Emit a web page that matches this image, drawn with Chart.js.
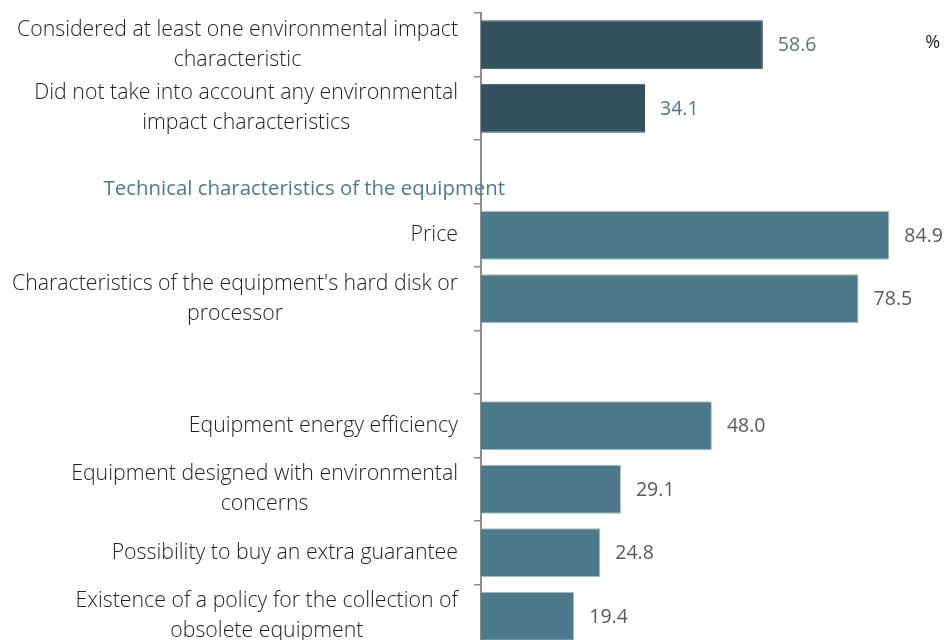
<!DOCTYPE html>
<html>
<head>
<meta charset="utf-8">
<script src="https://cdn.jsdelivr.net/npm/chart.js@4"></script>
<style>
  html, body { margin: 0; padding: 0; background: #ffffff; overflow: hidden; width: 944px; height: 640px; }
  #wrap { position: relative; width: 962px; height: 660px; }
</style>
</head>
<body>
<div id="wrap"><canvas id="c"></canvas></div>
<script>
const categories = [
  ["Considered at least one environmental impact", "characteristic"],
  ["Did not take into account any environmental", "impact characteristics"],
  "",
  "Price",
  ["Characteristics of the equipment's hard disk or", "processor"],
  "",
  "Equipment energy efficiency",
  ["Equipment designed with environmental", "concerns"],
  "Possibility to buy an extra guarantee",
  ["Existence of a policy for the collection of", "obsolete equipment"]
];
const values = [58.6, 34.1, null, 84.9, 78.5, null, 48.0, 29.1, 24.8, 19.4];
const groupOf = ["env", "env", null, "tech", "tech", null, "tech", "tech", "tech", "tech"];
const sectionHeaders = { 2: "Technical characteristics of the equipment" };
const unitLabel = "%";

const barColors = { env: "#34525e", tech: "#4d7a8a" };
const barEdge = { env: "#34525e", tech: "#a9c2cb" };
const valueColors = { env: "#5a7282", tech: "#585b54" };

const LABEL_FONT = '300 21.3px "Open Sans", "Noto Sans", sans-serif';
const LINE_H = 30;

const labelPlugin = {
  id: 'customLabels',
  afterDraw(chart) {
    const ctx = chart.ctx;
    const ys = chart.scales.y, xs = chart.scales.x;
    ctx.save();
    // category labels: block right-aligned, lines centered within block
    ctx.font = LABEL_FONT;
    ctx.fillStyle = '#1e1e1e';
    ctx.textBaseline = 'middle';
    ctx.textAlign = 'center';
    const right = ys.right - 7 - 16;
    categories.forEach((lab, i) => {
      const lines = Array.isArray(lab) ? lab : [lab];
      if (!lines.join('')) return;
      const w = Math.max(...lines.map(l => ctx.measureText(l).width));
      const cx = right - w / 2;
      const cy = ys.getPixelForValue(i);
      lines.forEach((l, k) => ctx.fillText(l, cx, cy + (k - (lines.length - 1) / 2) * LINE_H));
    });
    // section headers
    ctx.font = '400 20.4px "Open Sans", "Noto Sans", sans-serif';
    ctx.fillStyle = '#4a7c8c';
    ctx.textAlign = 'right';
    Object.keys(sectionHeaders).forEach(k => {
      const i = +k;
      ctx.fillText(sectionHeaders[k], ys.right + 24, ys.getPixelForValue(i) + LINE_H / 2 + 2);
    });
    // value labels
    ctx.font = '400 19.5px "Open Sans", "Noto Sans", sans-serif';
    ctx.textAlign = 'left';
    values.forEach((v, i) => {
      if (v === null) return;
      ctx.fillStyle = valueColors[groupOf[i]];
      ctx.fillText(v.toFixed(1), xs.getPixelForValue(v) + 15, ys.getPixelForValue(i) + 1);
    });
    // unit label
    ctx.font = '400 18px "Open Sans", "Noto Sans", sans-serif';
    ctx.fillStyle = '#1e1e1e';
    ctx.textAlign = 'center';
    ctx.fillText(unitLabel, xs.getPixelForValue(93.9), ys.getPixelForValue(0) - 2);
    ctx.restore();
  }
};

new Chart(document.getElementById('c'), {
  type: 'bar',
  data: {
    labels: categories,
    datasets: [{
      data: values,
      backgroundColor: groupOf.map(g => g ? barColors[g] : 'transparent'),
      borderColor: groupOf.map(g => g ? barEdge[g] : 'transparent'),
      borderWidth: 1,
      barPercentage: 0.775,
      categoryPercentage: 1.0
    }]
  },
  options: {
    indexAxis: 'y',
    responsive: true,
    maintainAspectRatio: false,
    animation: false,
    layout: { padding: { top: 13, bottom: 12, left: 0, right: 0 } },
    plugins: { legend: { display: false }, tooltip: { enabled: false } },
    scales: {
      x: { display: false, min: 0, max: 100 },
      y: {
        afterFit(scale) { scale.width = 481; },
        ticks: { display: false },
        grid: { display: true, drawOnChartArea: false, drawTicks: true, tickLength: 7, color: '#8c8c8c', lineWidth: 1.5, offset: true },
        border: { display: true, color: '#8c8c8c', width: 2 }
      }
    }
  },
  plugins: [labelPlugin]
});
</script>
</body>
</html>
